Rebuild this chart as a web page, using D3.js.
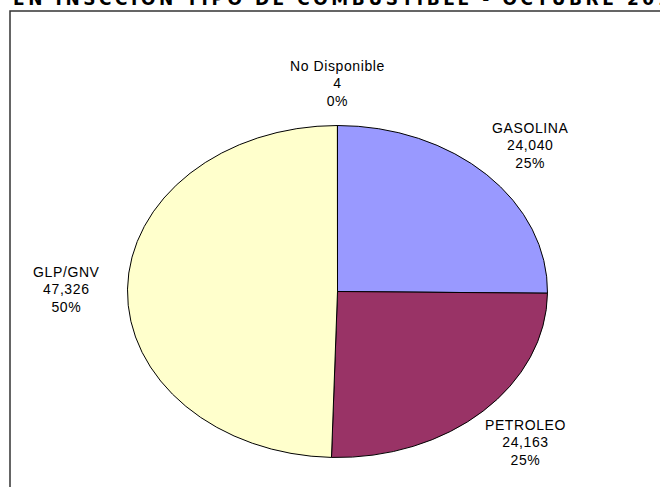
<!DOCTYPE html>
<html>
<head>
<meta charset="utf-8">
<script src="https://cdn.jsdelivr.net/npm/d3@7"></script>
<style>
  body { margin: 0; background: #fff; }
  svg { display: block; }
</style>
</head>
<body>
<svg id="chart" width="660" height="487"></svg>
<script>
// data
var categories = ["GASOLINA", "PETROLEO", "GLP/GNV", "No Disponible"];
var values = [24040, 24163, 47326, 4];
var colors = ["#9999FF", "#993366", "#FFFFCC", "#CCFFFF"];
var title = "EN INSCCION TIPO DE COMBUSTIBLE - OCTUBRE 2013";

var W = 660, H = 487;
var cx = 337.5, cy = 291.5, rx = 210, ry = 166;

var svg = d3.select("#chart");

// title, mostly cut off at the top like the original
svg.append("text")
  .attr("x", 13)
  .attr("y", 5)
  .attr("font-family", "'DejaVu Sans', sans-serif")
  .attr("font-weight", "bold")
  .attr("font-size", 17)
  .attr("textLength", 672)
  .attr("lengthAdjust", "spacing")
  .attr("fill", "#000")
  .text(title);

// plot border
svg.append("rect")
  .attr("x", 10)
  .attr("y", 11)
  .attr("width", 700)
  .attr("height", 500)
  .attr("fill", "none")
  .attr("stroke", "#333")
  .attr("stroke-width", 1.5);

var ds = categories.map(function(c, i) {
  return { name: c, value: values[i], color: colors[i] };
});
var total = d3.sum(values);

var pie = d3.pie()
  .sort(null)
  .value(function(d) { return d.value; });

var arc = d3.arc()
  .innerRadius(0)
  .outerRadius(ry);

var arcs = pie(ds);

// pie drawn as a circle and stretched to an ellipse
var g = svg.append("g")
  .attr("transform", "translate(" + cx + "," + cy + ") scale(" + (rx / ry) + ",1)");

g.selectAll("path")
  .data(arcs)
  .enter()
  .append("path")
  .attr("d", arc)
  .attr("fill", function(d) { return d.data.color; })
  .attr("stroke", "#000")
  .attr("stroke-width", 1)
  .attr("vector-effect", "non-scaling-stroke");

var fmtNum = d3.format(",");
var fmtPct = d3.format(".0%");

var labels = svg.append("g")
  .attr("font-family", "'Liberation Sans', Arial, sans-serif")
  .attr("font-size", 14)
  .attr("letter-spacing", 0.6)
  .attr("fill", "#000")
  .attr("text-anchor", "middle");

arcs.forEach(function(a) {
  var mid = (a.startAngle + a.endAngle) / 2;
  var lx = cx + (rx * 1.12 + 36) * Math.sin(mid);
  var ly = cy - (ry * 1.1 + 26) * Math.cos(mid);
  var lines = [a.data.name, fmtNum(a.data.value), fmtPct(a.data.value / total)];
  var t = labels.append("text")
    .attr("x", lx)
    .attr("y", ly - 17 + 5);
  lines.forEach(function(s, i) {
    t.append("tspan")
      .attr("x", lx)
      .attr("dy", i === 0 ? 0 : 17.5)
      .text(s);
  });
});
</script>
</body>
</html>
